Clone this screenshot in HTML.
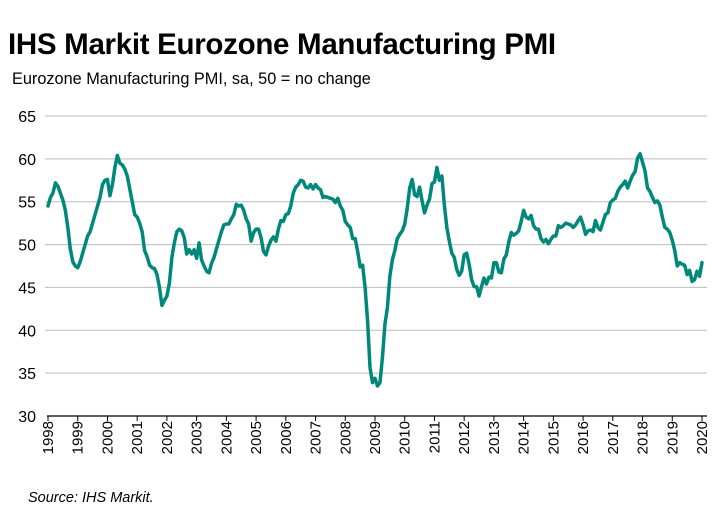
<!DOCTYPE html>
<html><head><meta charset="utf-8"><style>
body{margin:0;background:#fff;font-family:"Liberation Sans",Arial,sans-serif}
#wrap{position:relative;width:725px;height:518px;overflow:hidden}
</style></head><body>
<div id="wrap">
<svg id="svg" width="725" height="518" xmlns="http://www.w3.org/2000/svg">
<text x="8" y="54" font-size="29.5" font-weight="bold" fill="#000" style="letter-spacing:-0.3px">IHS Markit Eurozone Manufacturing PMI</text>
<text x="12" y="84" font-size="16.3" fill="#000">Eurozone Manufacturing PMI, sa, 50 = no change</text>
<text x="28" y="502" font-size="14.5" font-style="italic" fill="#000">Source: IHS Markit.</text>
<g id="grid"></g><g id="yt"></g><g id="xt"></g><g id="ser"></g>
</svg></div>
<script>
const yTicks=[30,35,40,45,50,55,60,65];
const years=[1998,1999,2000,2001,2002,2003,2004,2005,2006,2007,2008,2009,2010,2011,2012,2013,2014,2015,2016,2017,2018,2019,2020];
const pmi=[
54.5,55.5,56,57.2,56.8,56,55.2,54,52,49.5,48,47.5,
47.3,48,49,50,51,51.5,52.5,53.5,54.5,55.5,57,57.5,
57.6,55.7,57,59,60.4,59.5,59.3,58.8,58,56.5,55,53.5,
53.2,52.5,51.5,49.3,48.6,47.6,47.3,47.2,46.5,45,42.9,43.5,
44,45.5,48.5,50.2,51.5,51.8,51.6,50.8,48.9,49.4,48.9,49.4,
48.4,50.2,48.2,47.5,46.9,46.7,47.8,48.5,49.5,50.5,51.5,52.3,
52.4,52.4,53,53.5,54.7,54.5,54.6,54,53,52.4,50.4,51.4,
51.8,51.8,50.8,49.2,48.8,49.8,50.5,50.9,50.4,51.8,52.8,52.7,
53.5,53.6,54.5,56,56.7,57,57.5,57.4,56.7,56.6,57,56.5,
57,56.6,56.4,55.5,55.6,55.5,55.4,55.3,54.9,55.4,54.5,54,
52.7,52.3,52,50.7,50.7,49.2,47.4,47.6,45,41.1,35.6,33.9,
34.4,33.5,33.9,36.8,40.7,42.6,46.3,48.2,49.3,50.7,51.2,51.6,
52.4,54.2,56.6,57.6,55.8,55.6,56.7,55.1,53.7,54.6,55.3,57.1,
57.3,59,57.5,58,54.6,52,50.4,49,48.5,47.1,46.4,46.9,
48.8,49,47.7,45.9,45.1,45.1,44,45.1,46.1,45.4,46.2,46.1,
47.9,47.9,46.8,46.7,48.3,48.8,50.3,51.4,51.1,51.3,51.6,52.7,
54,53.2,53,53.4,52.2,51.8,51.8,50.7,50.3,50.6,50.1,50.6,
51,51,52.2,52,52.2,52.5,52.4,52.3,52,52.3,52.8,53.2,
52.3,51.2,51.6,51.7,51.5,52.8,52,51.7,52.6,53.5,53.7,54.9,
55.2,55.4,56.2,56.7,57,57.4,56.6,57.4,58.1,58.5,60.1,60.6,
59.6,58.6,56.6,56.2,55.5,54.9,55.1,54.6,53.2,52,51.8,51.4,
50.5,49.3,47.5,47.9,47.7,47.6,46.5,47,45.7,45.9,46.9,46.3,
47.9];
const NS="http://www.w3.org/2000/svg";
const X0=48,X1=702,Y0=416,Y1=116;
const xs=m=>X0+(X1-X0)*m/264;
const ys=v=>Y0-(v-30)/35*(Y0-Y1);
function mk(t,a,p){const e=document.createElementNS(NS,t);for(const k in a)e.setAttribute(k,a[k]);p.appendChild(e);return e;}
const grid=document.getElementById('grid'),yt=document.getElementById('yt'),xt=document.getElementById('xt'),ser=document.getElementById('ser');
yTicks.forEach(v=>{
 if(v>30){const l=mk('line',{x1:45,x2:707,y1:ys(v),y2:ys(v),stroke:'#bdbdbd','stroke-width':1},grid);
 
 }
 const t=mk('text',{x:36,y:ys(v)+6,'font-size':16,'text-anchor':'end',fill:'#000'},yt);
 t.textContent=v;
 
 
});
const ax=mk('line',{x1:47,x2:707,y1:Y0,y2:Y0,stroke:'#000','stroke-width':1.3},grid);


years.forEach((yr,i)=>{
 const x=xs(i*12);
 const tk=mk('line',{x1:x,x2:x,y1:Y0,y2:Y0+5,stroke:'#000','stroke-width':1},xt);
 
 
 const t=mk('text',{x:0,y:0,'font-size':15,'text-anchor':'end',fill:'#000',transform:`translate(${x+5},${Y0+5}) rotate(-90)`},xt);
 t.textContent=yr;
 
 
});
const d=pmi.map((v,i)=>(i?'L':'M')+xs(i).toFixed(2)+','+ys(v).toFixed(2)).join('');
const p=mk('path',{d:d,fill:'none',stroke:'#00887a','stroke-width':3.5,'stroke-linejoin':'round','stroke-linecap':'round'},ser);


</script>
</body></html>
